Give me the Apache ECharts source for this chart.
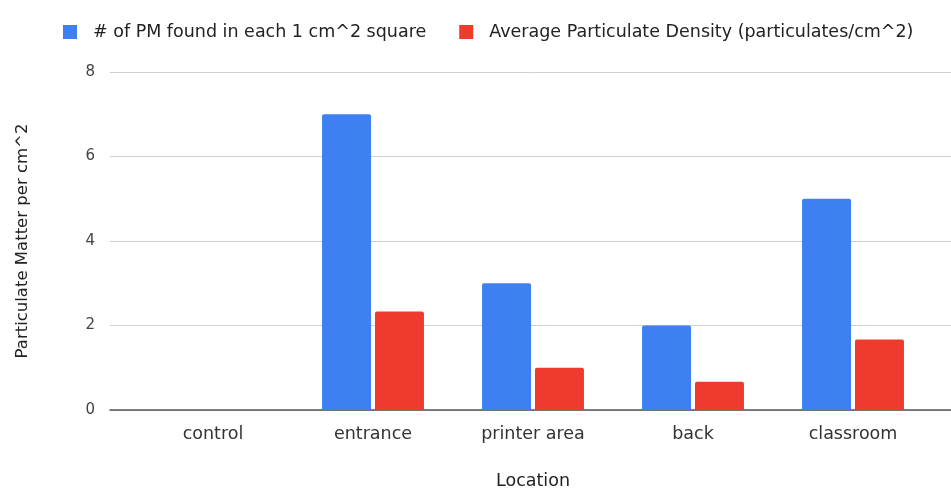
<!DOCTYPE html>
<html>
<head>
<meta charset="utf-8">
<script src="https://cdn.jsdelivr.net/npm/echarts@6/dist/echarts.min.js"></script>
<style>
  html, body { margin: 0; padding: 0; background: #ffffff; }
  #chart { width: 951px; height: 491px; }
</style>
</head>
<body>
<div id="chart"></div>
<script>
// Sampling locations and particulate counts
const locations = ['control', 'entrance', 'printer area', 'back', 'classroom'];
const pmCount = [0, 7, 3, 2, 5];
const avgDensity = [0, 2.33, 1, 0.67, 1.67];
const seriesNames = ['# of PM found in each 1 cm^2 square', 'Average Particulate Density (particulates/cm^2)'];
const yTicks = { min: 0, max: 8, interval: 2 };

const FONT = '"DejaVu Sans", "Liberation Sans", sans-serif';
const chart = echarts.init(document.getElementById('chart'), null, { renderer: 'canvas' });

chart.setOption({
  animation: false,
  color: ['#3e80f1', '#ef3b2e'],
  textStyle: { fontFamily: FONT },
  legend: {
    left: 58,
    top: 18,
    itemWidth: 14,
    itemHeight: 14,
    itemGap: 33,
    icon: 'rect',
    textStyle: { fontFamily: FONT, fontSize: 17.5, color: '#222', padding: [0, 0, 0, 11] },
    data: seriesNames
  },
  grid: [
    // background grid carrying the value gridlines across the full width
    { left: 110, right: 0, top: 72, bottom: 81, outerBoundsMode: 'none', containLabel: false },
    // plotting grid for the category bands
    { left: 133, right: 18, top: 72, bottom: 81, outerBoundsMode: 'none', containLabel: false }
  ],
  xAxis: [
    {
      gridIndex: 0, type: 'value', min: 0, max: 1,
      axisLine: { show: true, lineStyle: { color: '#555', width: 1.5 } },
      axisTick: { show: false }, axisLabel: { show: false }, splitLine: { show: false }
    },
    {
      gridIndex: 1, type: 'category', data: locations,
      axisLine: { show: false }, axisTick: { show: false },
      axisLabel: { fontFamily: FONT, fontSize: 17.5, color: '#333', margin: 15 },
      name: 'Location', nameLocation: 'middle', nameGap: 62,
      nameTextStyle: { fontFamily: FONT, fontSize: 17.5, color: '#222' }
    }
  ],
  yAxis: [
    {
      gridIndex: 0, type: 'value', min: yTicks.min, max: yTicks.max, interval: yTicks.interval,
      axisLine: { show: false }, axisTick: { show: false },
      axisLabel: { fontFamily: FONT, fontSize: 15, color: '#444', margin: 15 },
      splitLine: { show: true, lineStyle: { color: '#cfcfcf', width: 1 } },
      name: 'Particulate Matter per cm^2', nameLocation: 'middle', nameGap: 79,
      nameTextStyle: { fontFamily: FONT, fontSize: 16.5, color: '#222' }
    },
    {
      gridIndex: 1, type: 'value', min: yTicks.min, max: yTicks.max, interval: yTicks.interval,
      show: false, splitLine: { show: false }
    }
  ],
  series: [
    {
      name: seriesNames[0], type: 'bar', xAxisIndex: 1, yAxisIndex: 1,
      data: pmCount, barWidth: 49, barGap: '8%',
      itemStyle: { borderRadius: [2, 2, 0, 0], borderWidth: 0 }
    },
    {
      name: seriesNames[1], type: 'bar', xAxisIndex: 1, yAxisIndex: 1,
      data: avgDensity, barWidth: 49, barGap: '8%',
      itemStyle: { borderRadius: [2, 2, 0, 0], borderWidth: 0 }
    }
  ]
});
</script>
</body>
</html>
